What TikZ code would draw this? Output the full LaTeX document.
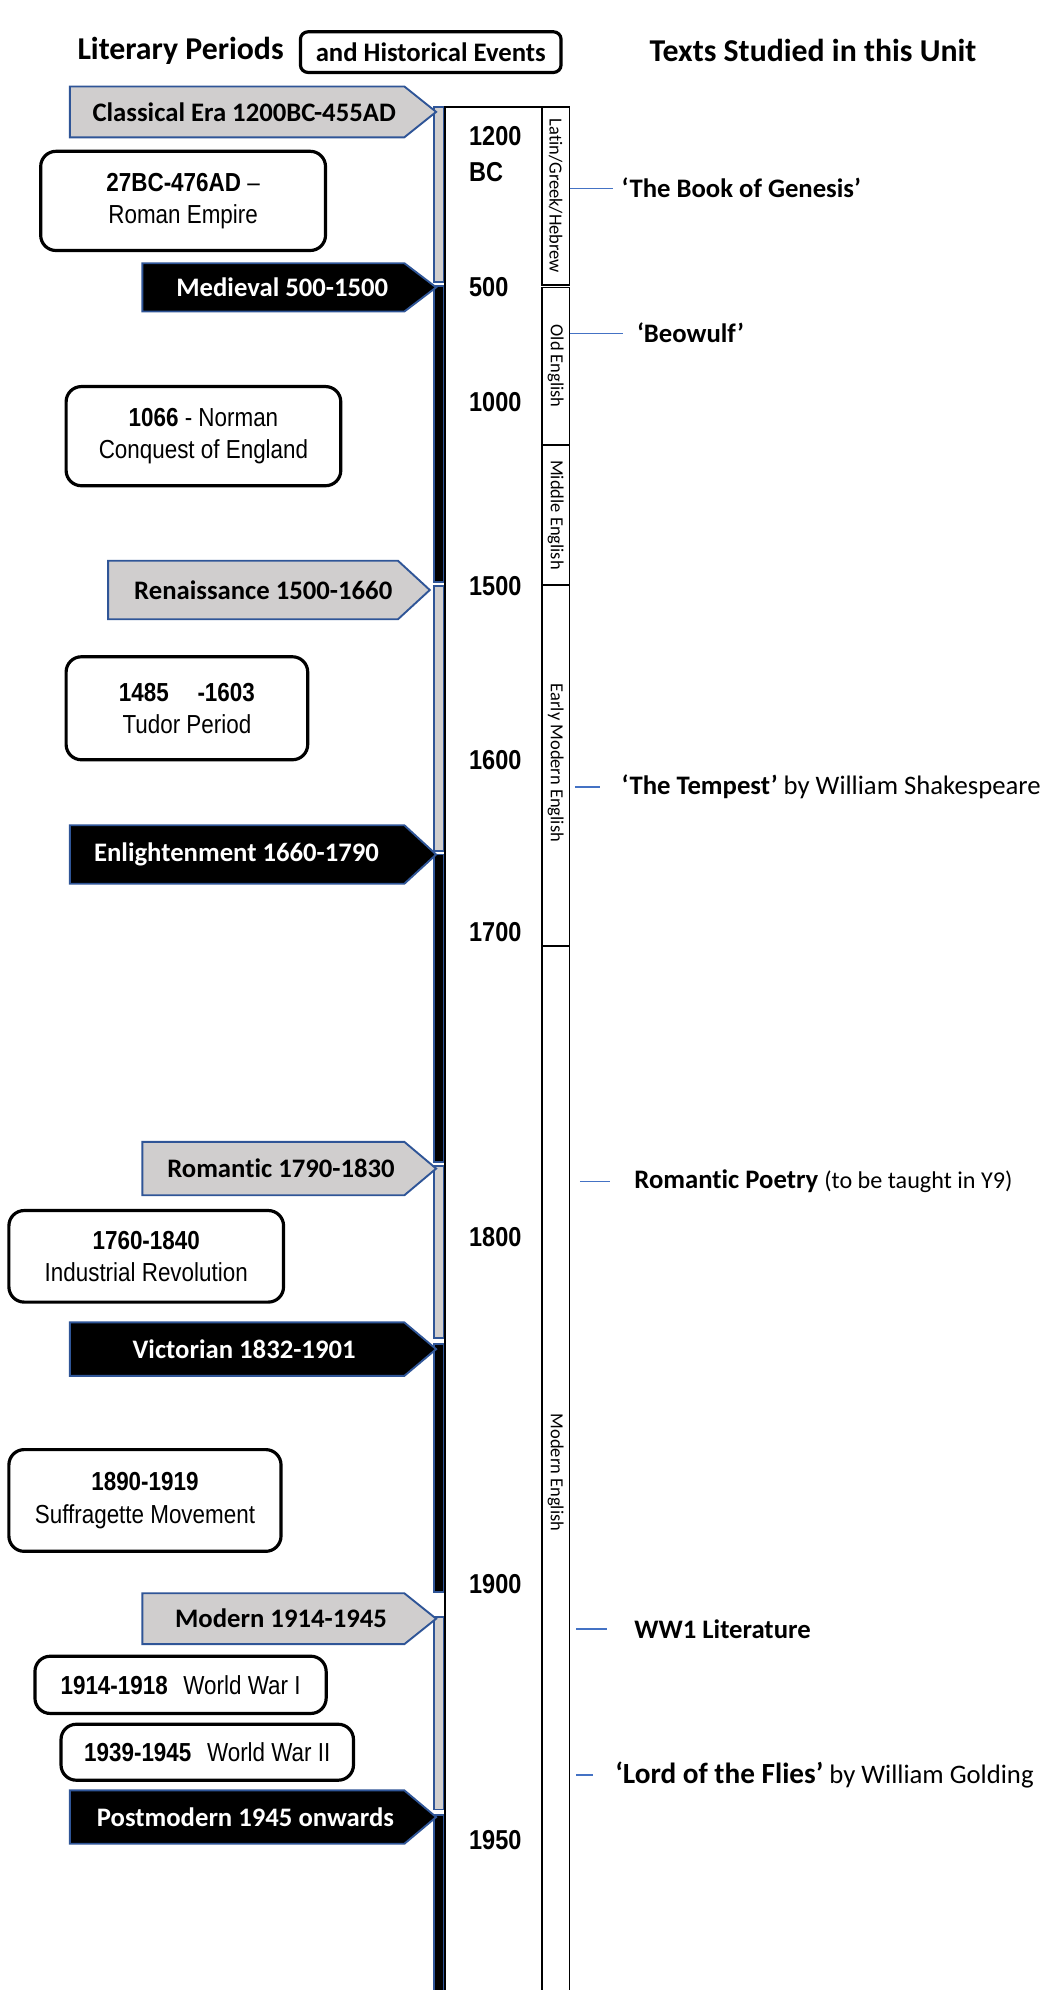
\documentclass[tikz,border=0pt]{standalone}
\usepackage{fontspec}
\setmainfont{Carlito}[Ligatures=NoCommon]
\newfontfamily\narrowfont[FakeStretch=0.86]{Liberation Sans}
\usepackage{tikz}

\definecolor{periodgrey}{RGB}{208,206,206}
\definecolor{periodblue}{RGB}{47,85,151}
\definecolor{linkblue}{RGB}{68,114,196}

\begin{document}
\begin{tikzpicture}[x=1pt,y=1pt,yscale=-1,xscale=1,
  heading/.style={font=\fontsize{25}{30}\selectfont\bfseries, inner sep=0.75pt},
  greyarrow/.style={draw=periodblue, line width=1.5, fill=periodgrey},
  blackarrow/.style={draw=periodblue, line width=1.5, fill=black},
  plabel/.style={font=\fontsize{21}{25}\selectfont\bfseries, inner sep=0.75pt},
  wlabel/.style={plabel, text=white},
  event/.style={draw, line width=2.5, rounded corners=12, align=center, inner sep=0,
    font=\narrowfont\fontsize{20.5}{25.5}\selectfont},
  year/.style={anchor=west, align=left, inner sep=0.75pt,
    font=\narrowfont\bfseries\fontsize{21.5}{28}\selectfont},
  langbox/.style={draw, line width=1.3},
  lang/.style={rotate=-90, inner sep=0.75pt, font=\fontsize{14.5}{16}\selectfont},
  work/.style={anchor=west, inner sep=0.75pt, font=\fontsize{21}{25}\selectfont},
  link/.style={draw=linkblue, line width=1}]
\useasboundingbox (0,0) rectangle (819.4,1565);

% Headings
\node[heading, anchor=west] (litper) at (60,40) {Literary Periods};
\node[heading, anchor=west, draw, line width=2.5, rounded corners=6, minimum width=205, minimum height=32,
  font=\fontsize{21}{25}\selectfont\bfseries] (histev) at (235,41) {and Historical Events};
\node[heading, anchor=west] (studied) at (510,40) {Texts Studied in this Unit};

%Period bar segments
\draw [greyarrow] (341,84) rectangle (349,222) ;
\draw [blackarrow] (341,225) rectangle (349,458) ;
\draw [greyarrow] (341,461) rectangle (349,669) ;
\draw [blackarrow] (341,672) rectangle (349,914) ;
\draw [greyarrow] (341,917) rectangle (349,1052) ;
\draw [blackarrow] (341,1057) rectangle (349,1252) ;
\draw [greyarrow] (341,1272) rectangle (349,1423) ;
\draw [blackarrow] (341,1427) rectangle (349,1580) ;

%Year column
\draw [line width=1.3]  (350,1580) -- (350,84) -- (426,84) ;

%Language column
\draw [langbox] (426,84) rectangle (448,224) ;
\draw [langbox] (426,226) rectangle (448,350) ;
\draw [langbox] (426,350) rectangle (448,460) ;
\draw [langbox] (426,460) rectangle (448,744) ;
\draw [langbox] (426,744) rectangle (448,1580) ;
\coordinate (langedge) at (448,84);
\node[lang] (latin) at (437,154) {Latin/Greek/Hebrew};
\node[lang] (oldeng) at (437,288) {Old English};
\node[lang] (midEng) at (437,405) {Middle English};
\node[lang] (earlymod) at (437,600) {Early Modern English};
\node[lang] (modeng) at (437,1158) {Modern English};

% Years
\node[year] (y1200) at (368,121) {1200\\BC};
\node[year] (y500) at (368,226) {500};
\node[year] (y1000) at (368,316) {1000};
\node[year] (y1500) at (368,461) {1500};
\node[year] (y1600) at (368,598) {1600};
\node[year] (y1700) at (368,733) {1700};
\node[year] (y1800) at (368,973) {1800};
\node[year] (y1900) at (368,1246) {1900};
\node[year] (y1950) at (368,1447) {1950};

%Shape: Classical arrow
\draw [greyarrow] (55,68) -- (318,68) -- (343,88) -- (318,108) -- (55,108) -- cycle ;
\node[plabel] (classical) at (192,88) {Classical Era 1200BC-455AD};
%Shape: Medieval arrow
\draw [blackarrow] (112,207) -- (318,207) -- (343,226) -- (318,245) -- (112,245) -- cycle ;
\node[wlabel] (medieval) at (222,226) {Medieval 500-1500};
%Shape: Renaissance arrow
\draw [greyarrow] (85,441) -- (313,441) -- (338,464) -- (313,487) -- (85,487) -- cycle ;
\node[plabel] (renaissance) at (207,464) {Renaissance 1500-1660};
%Shape: Enlightenment arrow
\draw [blackarrow] (55,649) -- (318,649) -- (343,672) -- (318,695) -- (55,695) -- cycle ;
\node[wlabel] (enlight) at (186,672) {Enlightenment 1660-1790};
%Shape: Romantic arrow
\draw [greyarrow] (112,898) -- (318,898) -- (343,919) -- (318,940) -- (112,940) -- cycle ;
\node[plabel] (romantic) at (221,919) {Romantic 1790-1830};
%Shape: Victorian arrow
\draw [blackarrow] (55,1040) -- (318,1040) -- (343,1061) -- (318,1082) -- (55,1082) -- cycle ;
\node[wlabel] (victorian) at (192,1061) {Victorian 1832-1901};
%Shape: Modern arrow
\draw [greyarrow] (112,1253) -- (318,1253) -- (343,1273) -- (318,1293) -- (112,1293) -- cycle ;
\node[plabel] (modern) at (221,1273) {Modern 1914-1945};
%Shape: Postmodern arrow
\draw [blackarrow] (55,1408) -- (318,1408) -- (343,1429) -- (318,1450) -- (55,1450) -- cycle ;
\node[wlabel] (postmodern) at (193,1429) {Postmodern 1945 onwards};

% Historical events
\node[event, minimum width=224, minimum height=78] (roman) at (144,158) {\textbf{27BC-476AD} –\\Roman Empire};
\node[event, minimum width=216, minimum height=78] (norman) at (160,343) {\textbf{1066} - Norman\\Conquest of England};
\node[event, minimum width=190, minimum height=81] (tudor) at (147,557) {\textbf{1485\hspace{1.1em}-1603}\\Tudor Period};
\node[event, minimum width=216, minimum height=72] (industrial) at (115,988) {\textbf{1760-1840}\\Industrial Revolution};
\node[event, minimum width=214, minimum height=80] (suffrage) at (114,1180) {\textbf{1890-1919}\\Suffragette Movement};
\node[event, minimum width=229, minimum height=45] (wwone) at (142,1325) {\textbf{1914-1918}\hspace{0.6em}World War I};
\node[event, minimum width=230, minimum height=44] (wwtwo) at (163,1378) {\textbf{1939-1945}\hspace{0.6em}World War II};

% Texts studied
\node[work] (genesis) at (488,148) {\textbf{‘The Book of Genesis’}};
\node[work] (beowulf) at (500,262) {\textbf{‘Beowulf’}};
\node[work] (tempest) at (488,619) {\textbf{‘The Tempest’} by William Shakespeare};
\node[work] (poetry) at (498,929) {\textbf{Romantic Poetry} {\fontsize{19}{23}\selectfont (to be taught in Y9)}};
\node[work] (wwlit) at (498,1281) {\textbf{WW1 Literature}};
\node[work] (flies) at (483,1396) {{\fontsize{23}{27}\selectfont\textbf{‘Lord of the Flies’}} by William Golding};

%Straight Lines to texts
\draw [link] (langedge |- genesis.west) -- ([xshift=-6]genesis.west) ;
\draw [link] (langedge |- beowulf.west) -- ([xshift=-10]beowulf.west) ;
\draw [link] ([xshift=4]langedge |- tempest.west) -- ([xshift=-16]tempest.west) ;
\draw [link] ([xshift=8]langedge |- poetry.west) -- ([xshift=-18]poetry.west) ;
\draw [link] ([xshift=5]langedge |- wwlit.west) -- ([xshift=-21]wwlit.west) ;
\draw [link] ([xshift=5]langedge |- flies.west) -- ([xshift=-17]flies.west) ;

\end{tikzpicture}
\end{document}
